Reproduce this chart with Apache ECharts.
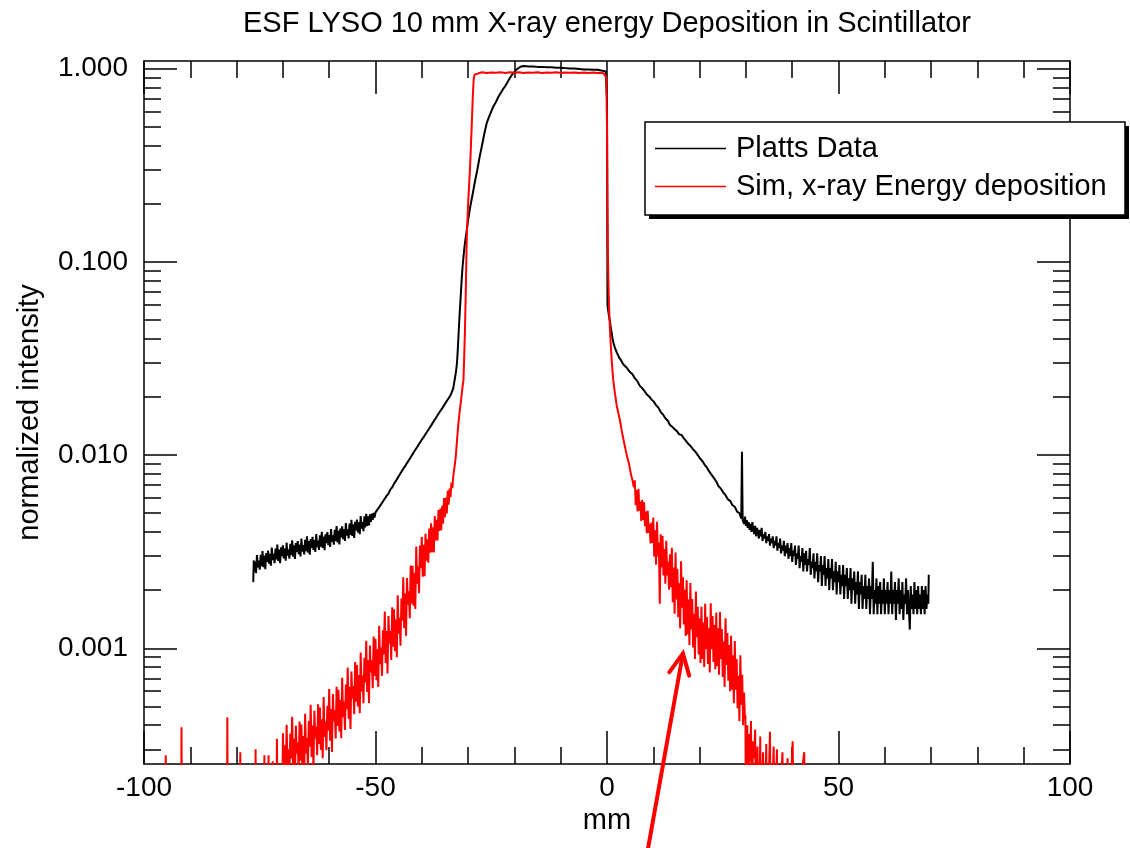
<!DOCTYPE html>
<html><head><meta charset="utf-8">
<script src="https://cdn.jsdelivr.net/npm/echarts@6/dist/echarts.min.js"></script>
<style>html,body{margin:0;padding:0;background:#fff}#c{width:1130px;height:848px}</style>
</head><body><div id="c"></div>
<script>
const chartTitle = 'ESF LYSO 10 mm X-ray energy Deposition in Scintillator';
const xName = 'mm';
const yName = 'normalized intensity';
const seriesNames = ['Platts Data', 'Sim, x-ray Energy deposition'];
const yMajorTicks = [0.001, 0.01, 0.1, 1];
const yMinorTicks = [0.0003,0.0004,0.0005,0.0006,0.0007,0.0008,0.0009,
  0.002,0.003,0.004,0.005,0.006,0.007,0.008,0.009,
  0.02,0.03,0.04,0.05,0.06,0.07,0.08,0.09,
  0.2,0.3,0.4,0.5,0.6,0.7,0.8,0.9];

// ---- Platts Data (black) ----
const plattsLeft = [
[-76.4,2.2e-3],[-76.3,2.85e-3],[-76.2,2.49e-3],[-76.0,2.81e-3],[-75.8,2.45e-3],[-75.6,3.04e-3],[-75.4,2.62e-3],[-75.2,2.84e-3],
[-75.0,2.55e-3],[-74.8,3.05e-3],[-74.6,2.66e-3],[-74.4,3.19e-3],[-74.2,2.63e-3],[-74.0,3.02e-3],[-73.8,2.57e-3],[-73.6,3.11e-3],
[-73.4,2.80e-3],[-73.2,3.20e-3],[-73.0,2.74e-3],[-72.8,3.08e-3],[-72.6,2.68e-3],[-72.4,3.32e-3],[-72.2,2.86e-3],[-72.0,3.08e-3],
[-71.8,2.76e-3],[-71.6,3.28e-3],[-71.4,2.88e-3],[-71.2,3.44e-3],[-71.0,2.83e-3],[-70.8,3.24e-3],[-70.6,2.76e-3],[-70.4,3.33e-3],
[-70.2,3.00e-3],[-70.0,3.41e-3],[-69.8,2.92e-3],[-69.6,3.28e-3],[-69.4,2.84e-3],[-69.2,3.52e-3],[-69.0,3.02e-3],[-68.8,3.25e-3],
[-68.6,2.91e-3],[-68.4,3.47e-3],[-68.2,3.03e-3],[-68.0,3.62e-3],[-67.8,2.98e-3],[-67.6,3.41e-3],[-67.4,2.90e-3],[-67.2,3.50e-3],
[-67.0,3.15e-3],[-66.8,3.59e-3],[-66.6,3.07e-3],[-66.4,3.44e-3],[-66.2,2.99e-3],[-66.0,3.70e-3],[-65.8,3.17e-3],[-65.6,3.42e-3],
[-65.4,3.06e-3],[-65.2,3.64e-3],[-65.0,3.18e-3],[-64.8,3.80e-3],[-64.6,3.13e-3],[-64.4,3.59e-3],[-64.2,3.05e-3],[-64.0,3.68e-3],
[-63.8,3.31e-3],[-63.6,3.77e-3],[-63.4,3.23e-3],[-63.2,3.63e-3],[-63.0,3.15e-3],[-62.8,3.90e-3],[-62.6,3.34e-3],[-62.4,3.61e-3],
[-62.2,3.23e-3],[-62.0,3.84e-3],[-61.8,3.36e-3],[-61.6,4.01e-3],[-61.4,3.31e-3],[-61.2,3.79e-3],[-61.0,3.22e-3],[-60.8,3.89e-3],
[-60.6,3.50e-3],[-60.4,4.00e-3],[-60.2,3.42e-3],[-60.0,3.85e-3],[-59.8,3.35e-3],[-59.6,4.14e-3],[-59.4,3.56e-3],[-59.2,3.84e-3],
[-59.0,3.44e-3],[-58.8,4.10e-3],[-58.6,3.58e-3],[-58.4,4.29e-3],[-58.2,3.53e-3],[-58.0,4.05e-3],[-57.8,3.45e-3],[-57.6,4.17e-3],
[-57.4,3.75e-3],[-57.2,4.28e-3],[-57.0,3.67e-3],[-56.8,4.13e-3],[-56.6,3.59e-3],[-56.4,4.45e-3],[-56.2,3.83e-3],[-56.0,4.13e-3],
[-55.8,3.70e-3],[-55.6,4.42e-3],[-55.4,3.86e-3],[-55.2,4.63e-3],[-55.0,3.82e-3],[-54.8,4.38e-3],[-54.6,3.73e-3],[-54.4,4.52e-3],
[-54.2,4.07e-3],[-54.0,4.64e-3],[-53.8,3.98e-3],[-53.6,4.48e-3],[-53.4,3.90e-3],[-53.2,4.84e-3],[-53.0,4.16e-3],[-52.8,4.50e-3],
[-52.6,4.04e-3],[-52.4,4.82e-3],[-52.2,4.22e-3],[-52.0,4.96e-3],[-51.8,4.30e-3],[-51.6,4.82e-3],[-51.4,4.32e-3],[-51.2,4.94e-3],
[-51.0,4.51e-3],[-50.8,4.98e-3],[-50.6,4.62e-3],[-50.4,5.02e-3],[-50.2,4.75e-3],[-50.0,5.05e-3]
];
const plattsRise = [
[-49.6,5.10e-3],[-49.2,5.38e-3],[-48.8,5.48e-3],[-48.4,5.75e-3],[-48.0,5.88e-3],[-47.6,6.15e-3],[-47.2,6.32e-3],[-46.8,6.62e-3],
[-46.4,6.80e-3],[-46.0,7.10e-3],[-45.6,7.35e-3],[-45.2,7.62e-3],[-44.8,7.90e-3],[-44.4,8.20e-3],[-44.0,8.50e-3],[-43.5,8.85e-3],
[-43.0,9.25e-3],[-42.5,9.65e-3],[-42.0,10.1e-3],[-41.5,10.55e-3],[-41.0,11.0e-3],[-40.5,11.5e-3],[-40.0,12.0e-3],[-39.5,12.5e-3],
[-39.0,13.05e-3],[-38.5,13.6e-3],[-38.0,14.2e-3],[-37.5,14.85e-3],[-37.0,15.5e-3],[-36.5,16.2e-3],[-36.0,16.9e-3],[-35.5,17.6e-3],
[-35.0,18.4e-3],[-34.5,19.2e-3],[-34.0,20.0e-3],[-33.6,20.9e-3],[-33.2,22.2e-3],[-32.9,0.0245],[-32.6,0.0272],
[-32.4,0.0300],[-32.2,0.036],[-32.0,0.045],[-31.8,0.055],[-31.6,0.066],[-31.4,0.080],[-31.2,0.094],[-31.0,0.106],
[-30.8,0.118],[-30.6,0.129],[-30.3,0.145],[-30.0,0.165],[-29.5,0.195],[-29.0,0.225],[-28.5,0.262],[-28.0,0.30],
[-27.5,0.35],[-27.0,0.40],[-26.5,0.46],[-26.0,0.52],[-25.5,0.56],[-25.0,0.60],[-24.5,0.64],[-24.0,0.67],
[-23.5,0.71],[-23.0,0.745],[-22.5,0.78],[-22.0,0.81],[-21.5,0.85],[-21.0,0.89],[-20.5,0.93],[-20.0,0.96],
[-19.5,0.99],[-19.0,1.01],[-18.5,1.025],[-18.0,1.03]
];
const plattsTop = [
[-17.0,1.025],[-16.0,1.025],[-15.0,1.02],[-14.0,1.02],[-13.0,1.015],[-12.0,1.015],[-11.0,1.01],[-10.0,1.01],
[-9.0,1.005],[-8.0,1.0],[-7.0,1.0],[-6.0,0.995],[-5.0,0.99],[-4.0,0.99],[-3.0,0.985],[-2.0,0.985],
[-1.5,0.98],[-1.0,0.975],[-0.6,0.97],[-0.3,0.965],[-0.1,0.95],[0.0,0.70],[0.05,0.25]
];
const plattsRight = [
[0.1,0.060],[0.2,0.057],[0.35,0.054],[0.5,0.051],[0.65,0.049],[0.8,0.046],[1.0,0.043],[1.2,0.040],
[1.4,0.038],[1.7,0.036],[2.1,0.034],[2.6,0.032],[3.0,0.031],[3.5,0.0295],[4.2,0.0284],[5.0,0.0268],
[5.5,0.0262],[6.0,0.025],[6.5,0.0242],[7.1,0.0228],[7.6,0.0222],[8.1,0.0214],[8.6,0.0206],[9.1,0.0201],
[9.6,0.0194],[10.1,0.0189],[10.6,0.0181],[11.1,0.0176],[11.6,0.0167],[12.1,0.0162],[12.6,0.0155],[13.1,0.0151],
[13.6,0.0143],[14.1,0.0140],[14.6,0.0136],[15.1,0.0133],[15.6,0.0128],[16.1,0.0127],[16.6,0.0122],[17.1,0.0118],
[17.6,0.0114],[18.1,0.0111],[18.6,0.0107],[19.1,0.0104],[19.6,0.0100],[20.1,0.0096],[20.6,0.0093],[21.1,0.0089],
[21.6,0.0086],[22.1,0.0082],[22.6,0.0079],[23.1,0.0076],[23.6,0.0073],[24.1,0.0069],[24.6,0.0067],[25.1,0.0064],
[25.6,0.0062],[26.1,0.0059],[26.6,0.0058],[27.1,0.0055],[27.6,0.0054],[28.1,0.0051],[28.6,0.0050],[29.0,0.0047],
[29.15,0.0104],[29.3,0.0046]
];
const plattsTail = [
[29.4,0.0047],[29.6,0.0044],[29.8,0.0048],[30.0,0.0043],[30.2,0.0046],[30.4,0.0042],[30.6,0.0045],[30.8,0.0041],
[31.0,0.0044],[31.2,0.0040],[31.4,0.0045],[31.6,0.0041],[31.8,0.0039],[32.0,0.0043],[32.2,0.0038],[32.4,0.0042],
[32.6,0.0040],[32.8,0.0037],[33.0,0.0041],[33.2,0.0038],[33.4,0.0042],[33.6,0.0036],[33.8,0.0039],[34.0,0.0037],
[34.2,0.0040],[34.4,0.0035],[34.6,0.0038],[34.8,0.0036],[35.0,0.0039],[35.2,0.0034],[35.4,0.0037],[35.6,0.0035],
[35.8,0.0038],[36.0,0.0033],[36.2,0.0036],[36.4,0.0034],[36.6,0.0038],[36.8,0.0032],[37.0,0.0035],[37.2,0.0033],
[37.4,0.0037],[37.6,0.0031],[37.8,0.0034],[38.0,0.0032],[38.2,0.0036],[38.4,0.0030],[38.6,0.0034],[38.8,0.0031],
[39.0,0.0035],[39.2,0.0029],[39.4,0.0033],[39.6,0.0030],[39.8,0.0035],[40.0,0.0028],[40.2,0.0032],[40.4,0.0030],
[40.6,0.0034],[40.8,0.0027],[41.0,0.0031],[41.2,0.0029],[41.4,0.0034],[41.6,0.0026],[41.8,0.0030],[42.0,0.0028],
[42.2,0.0033],[42.4,0.0025],[42.6,0.0031],[42.8,0.0027],[43.0,0.0032],[43.2,0.0025],[43.4,0.0029],[43.6,0.0027],
[43.8,0.0033],[44.0,0.0024],[44.2,0.0028],[44.4,0.0026],[44.6,0.0031],[44.8,0.0023],[45.0,0.0028],[45.2,0.0025],
[45.4,0.0031],[45.6,0.0022],[45.8,0.0027],[46.0,0.0025],[46.2,0.0030],[46.4,0.0021],[46.6,0.0027],[46.8,0.0024],
[47.0,0.0030],[47.2,0.0021],[47.4,0.0026],[47.6,0.0023],[47.8,0.0029],[48.0,0.0020],[48.2,0.0026],[48.4,0.0023],
[48.6,0.0029],[48.8,0.0020],[49.0,0.0025],[49.2,0.0022],[49.4,0.0028],[49.6,0.0019],[49.8,0.0025],[50.0,0.0022],
[50.2,0.0027],[50.4,0.0019],[50.6,0.0024],[50.8,0.0021],[51.0,0.0027],[51.2,0.0018],[51.4,0.0024],[51.6,0.0021],
[51.8,0.0026],[52.0,0.0018],[52.2,0.0023],[52.4,0.0020],[52.6,0.0026],[52.8,0.0017],[53.0,0.0023],[53.2,0.0020],
[53.4,0.0025],[53.6,0.0017],[53.8,0.0022],[54.0,0.0019],[54.2,0.0025],[54.4,0.0016],[54.6,0.0022],[54.8,0.0019],
[55.0,0.0024],[55.2,0.0016],[55.4,0.0021],[55.6,0.0018],[55.8,0.0024],[56.0,0.0016],[56.2,0.0021],[56.4,0.0018],
[56.6,0.0023],[56.8,0.0015],[57.0,0.0021],[57.2,0.0018],[57.4,0.0028],[57.6,0.0015],[57.8,0.0020],[58.0,0.0017],
[58.2,0.0023],[58.4,0.0015],[58.6,0.0021],[58.8,0.0017],[59.0,0.0022],[59.2,0.0015],[59.4,0.0020],[59.6,0.0017],
[59.8,0.0023],[60.0,0.0015],[60.2,0.0020],[60.4,0.0017],[60.6,0.0022],[60.8,0.0015],[61.0,0.0020],[61.2,0.0017],
[61.4,0.0025],[61.6,0.0015],[61.8,0.0020],[62.0,0.0017],[62.2,0.0022],[62.4,0.0014],[62.6,0.0020],[62.8,0.0017],
[63.0,0.0023],[63.2,0.0015],[63.4,0.0020],[63.6,0.0016],[63.8,0.0022],[64.0,0.0014],[64.2,0.0019],[64.4,0.0017],
[64.6,0.0023],[64.8,0.0015],[65.0,0.0020],[65.2,0.0016],[65.4,0.00125],[65.6,0.0021],[65.8,0.0016],[66.0,0.0019],
[66.2,0.0015],[66.4,0.0022],[66.6,0.0016],[66.8,0.0020],[67.0,0.0015],[67.2,0.0021],[67.4,0.0016],[67.6,0.0019],
[67.8,0.0015],[68.0,0.0021],[68.2,0.0016],[68.4,0.0020],[68.6,0.0015],[68.8,0.0021],[69.0,0.0016],[69.2,0.0019],
[69.4,0.0017],[69.5,0.0024]
];

// ---- Sim, x-ray Energy deposition (red); 0.0001 lies below the axis floor ----
const simLeftSparse = [
[-97.0,1e-4],[-95.4,1e-4],[-95.3,2.8e-4],[-95.2,1e-4],[-92.0,1e-4],[-91.9,3.9e-4],[-91.8,1e-4],
[-82.1,1e-4],[-82.0,4.4e-4],[-81.9,1e-4],[-79.3,1e-4],[-79.2,2.9e-4],[-79.1,1e-4],[-76.0,1e-4],
[-75.9,3.0e-4],[-75.8,1e-4],[-74.1,1e-4],[-74.0,2.8e-4],[-73.9,1e-4],[-73.2,1e-4],[-73.1,2.8e-4],
[-73.0,1e-4],[-72.2,2.6e-4],[-71.4,1e-4],[-71.3,3.4e-4],[-71.0,1e-4],[-70.2,1e-4]
];
const simLeft = [
[-70.0,3.64e-4],[-69.8,2.18e-4],[-69.6,3.15e-4],[-69.4,1.97e-4],[-69.2,4.02e-4],[-69.0,2.51e-4],[-68.8,3.0e-4],[-68.6,2.12e-4],
[-68.4,3.62e-4],[-68.2,2.69e-4],[-68.0,4.43e-4],[-67.8,2.37e-4],[-67.6,3.41e-4],[-67.4,2.03e-4],[-67.2,3.98e-4],[-67.0,2.85e-4],
[-66.8,3.25e-4],[-66.6,2.29e-4],[-66.4,4.18e-4],[-66.2,2.62e-4],[-66.0,4.03e-4],[-65.8,2.43e-4],[-65.6,3.52e-4],[-65.4,2.22e-4],
[-65.2,4.58e-4],[-65.0,2.86e-4],[-64.8,3.43e-4],[-64.6,2.43e-4],[-64.4,4.2e-4],[-64.2,3.1e-4],[-64.0,5.1e-4],[-63.8,2.74e-4],
[-63.6,3.98e-4],[-63.4,2.39e-4],[-63.2,4.75e-4],[-63.0,3.42e-4],[-62.8,3.93e-4],[-62.6,2.8e-4],[-62.4,5.13e-4],[-62.2,3.2e-4],
[-62.0,4.94e-4],[-61.8,2.98e-4],[-61.6,4.3e-4],[-61.4,2.7e-4],[-61.2,5.6e-4],[-61.0,3.48e-4],[-60.8,4.18e-4],[-60.6,2.97e-4],
[-60.4,5.05e-4],[-60.2,3.75e-4],[-60.0,6.15e-4],[-59.8,3.33e-4],[-59.6,4.85e-4],[-59.4,2.91e-4],[-59.2,5.8e-4],[-59.0,4.18e-4],
[-58.8,4.8e-4],[-58.6,3.42e-4],[-58.4,6.33e-4],[-58.2,3.97e-4],[-58.0,6.11e-4],[-57.8,3.71e-4],[-57.6,5.4e-4],[-57.4,3.43e-4],
[-57.2,7.04e-4],[-57.0,4.4e-4],[-56.8,5.3e-4],[-56.6,3.78e-4],[-56.4,6.5e-4],[-56.2,4.84e-4],[-56.0,7.95e-4],[-55.8,4.32e-4],
[-55.6,6.33e-4],[-55.4,3.82e-4],[-55.2,7.58e-4],[-55.0,5.51e-4],[-54.8,6.38e-4],[-54.6,4.56e-4],[-54.4,8.5e-4],[-54.2,5.3e-4],
[-54.0,8.19e-4],[-53.8,5.0e-4],[-53.6,7.28e-4],[-53.4,4.62e-4],[-53.2,9.5e-4],[-53.0,5.98e-4],[-52.8,7.25e-4],[-52.6,5.2e-4],
[-52.4,8.93e-4],[-52.2,6.66e-4],[-52.0,1.095e-3],[-51.8,5.94e-4],[-51.6,8.67e-4],[-51.4,5.21e-4],[-51.2,1.035e-3],[-51.0,7.5e-4],
[-50.8,8.68e-4],[-50.6,6.21e-4],[-50.4,1.15e-3],[-50.2,7.2e-4],[-50.0,1.12e-3],[-49.8,6.83e-4],[-49.6,9.9e-4],[-49.4,6.3e-4],
[-49.2,1.31e-3],[-49.0,8.27e-4],[-48.8,1.01e-3],[-48.6,7.2e-4],[-48.4,1.24e-3],[-48.2,9.3e-4],[-48.0,1.55e-3],[-47.8,8.4e-4],
[-47.6,1.23e-3],[-47.4,7.4e-4],[-47.2,1.47e-3],[-47.0,1.06e-3],[-46.8,1.23e-3],[-46.6,8.7e-4],[-46.4,1.63e-3],[-46.2,1.02e-3],
[-46.0,1.59e-3],[-45.8,9.7e-4],[-45.6,1.41e-3],[-45.4,9.0e-4],[-45.2,1.88e-3],[-45.0,1.19e-3],[-44.8,1.44e-3],[-44.6,1.03e-3],
[-44.4,1.81e-3],[-44.2,1.39e-3],[-44.0,2.33e-3],[-43.8,1.27e-3],[-43.6,1.92e-3],[-43.4,1.16e-3],[-43.2,2.31e-3],[-43.0,1.68e-3],
[-42.8,1.97e-3],[-42.6,1.43e-3],[-42.4,2.68e-3],[-42.2,1.70e-3],[-42.0,2.67e-3],[-41.8,1.66e-3],[-41.6,2.46e-3],[-41.4,1.60e-3],
[-41.2,3.36e-3],[-41.0,2.16e-3],[-40.8,2.66e-3],[-40.6,1.93e-3],[-40.4,3.40e-3],[-40.2,2.60e-3],[-40.0,3.77e-3],[-39.8,2.35e-3],
[-39.6,3.43e-3],[-39.4,2.36e-3],[-39.2,3.92e-3],[-39.0,2.84e-3],[-38.8,3.67e-3],[-38.6,2.77e-3],[-38.4,4.17e-3],[-38.2,3.12e-3],
[-38.0,4.44e-3],[-37.8,3.14e-3],[-37.6,4.23e-3],[-37.4,3.13e-3],[-37.2,4.83e-3],[-37.0,3.61e-3],[-36.8,4.62e-3],[-36.6,3.61e-3],
[-36.4,5.19e-3],[-36.2,4.05e-3],[-36.0,5.29e-3],[-35.8,4.08e-3],[-35.6,5.47e-3],[-35.4,4.42e-3],[-35.2,5.99e-3],[-35.0,4.77e-3],
[-34.8,6.03e-3],[-34.6,4.98e-3],[-34.4,6.54e-3],[-34.2,5.54e-3],[-34.0,6.70e-3],[-33.8,6.05e-3],[-33.6,7.20e-3],[-33.4,6.75e-3],
[-33.2,7.75e-3],[-33.0,7.8e-3],[-32.7,9.6e-3],[-32.4,1.19e-2],[-32.1,1.45e-2],[-31.8,1.70e-2],[-31.5,1.95e-2],[-31.2,2.25e-2],
[-31.0,2.44e-2],[-30.7,4.2e-2],[-30.5,7.0e-2],[-30.3,0.13],[-30.0,0.20],[-29.6,0.30],[-29.3,0.45],[-29.0,0.70],
[-28.8,0.88],[-28.6,0.93],[-28.3,0.95]
];
const simPlateau = [
[-27.0,0.957],[-26.0,0.948],[-25.0,0.955],[-24.0,0.951],[-23.0,0.958],[-22.0,0.949],[-21.0,0.956],[-20.0,0.950],
[-19.0,0.957],[-18.0,0.948],[-17.0,0.955],[-16.0,0.951],[-15.0,0.957],[-14.0,0.949],[-13.0,0.955],[-12.0,0.950],
[-11.0,0.956],[-10.0,0.948],[-9.0,0.954],[-8.0,0.950],[-7.0,0.955],[-6.0,0.947],[-5.0,0.953],[-4.0,0.949],
[-3.0,0.954],[-2.0,0.948],[-1.0,0.95],[-0.6,0.94],[-0.35,0.92],[-0.15,0.88],[0.0,0.50],[0.1,0.20]
];
const simDrop = [
[0.2,0.11],[0.3,0.080],[0.45,0.058],[0.65,0.044],[0.85,0.036],[1.05,0.030],[1.35,0.0244],[1.7,0.021],
[2.1,0.018],[2.5,0.0163],[2.8,0.0151],[3.2,0.0133],[3.6,0.0119],[4.0,0.0107],[4.4,0.0097],[4.8,0.0089],
[5.2,0.0079],[5.5,0.0074],[5.8,0.0068]
];
const simRight = [
[6.0,7.4e-3],[6.2,5.5e-3],[6.4,6.6e-3],[6.6,5.1e-3],[6.8,6.7e-3],[7.0,5.15e-3],[7.2,5.75e-3],[7.4,4.56e-3],
[7.6,5.87e-3],[7.8,4.61e-3],[8.0,5.7e-3],[8.2,4.28e-3],[8.4,5.1e-3],[8.6,3.94e-3],[8.8,5.15e-3],[9.0,3.96e-3],
[9.2,4.41e-3],[9.4,3.49e-3],[9.6,4.48e-3],[9.8,3.51e-3],[10.0,4.75e-3],[10.2,2.98e-3],[10.4,4.08e-3],[10.6,2.71e-3],
[10.8,4.52e-3],[11.0,2.99e-3],[11.2,3.53e-3],[11.4,1.70e-3],[11.6,3.89e-3],[11.8,2.62e-3],[12.0,3.81e-3],[12.2,2.38e-3],
[12.4,3.26e-3],[12.6,2.16e-3],[12.8,3.60e-3],[13.0,2.38e-3],[13.2,2.80e-3],[13.4,2.01e-3],[13.6,3.07e-3],[13.8,2.07e-3],
[14.0,3.31e-3],[14.2,1.73e-3],[14.4,2.62e-3],[14.6,1.51e-3],[14.8,3.13e-3],[15.0,1.79e-3],[15.2,2.58e-3],[15.4,1.45e-3],
[15.6,2.17e-3],[15.8,1.27e-3],[16.0,2.82e-3],[16.2,1.62e-3],[16.4,2.33e-3],[16.6,1.33e-3],[16.8,2.01e-3],[17.0,1.16e-3],
[17.2,2.25e-3],[17.4,1.18e-3],[17.6,1.79e-3],[17.8,1.04e-3],[18.0,2.18e-3],[18.2,1.25e-3],[18.4,1.80e-3],[18.6,1.01e-3],
[18.8,1.51e-3],[19.0,8.8e-4],[19.2,1.97e-3],[19.4,1.14e-3],[19.6,1.64e-3],[19.8,9.3e-4],[20.0,1.43e-3],[20.2,8.4e-4],
[20.4,1.64e-3],[20.6,8.8e-4],[20.8,1.36e-3],[21.0,8.0e-4],[21.2,1.70e-3],[21.4,9.9e-4],[21.6,1.45e-3],[21.8,8.3e-4],
[22.0,1.27e-3],[22.2,7.5e-4],[22.4,1.71e-3],[22.6,9.9e-4],[22.8,1.47e-3],[23.0,8.5e-4],[23.2,1.32e-3],[23.4,7.8e-4],
[23.6,1.53e-3],[23.8,8.1e-4],[24.0,1.27e-3],[24.2,7.3e-4],[24.4,1.54e-3],[24.6,8.8e-4],[24.8,1.26e-3],[25.0,7.1e-4],
[25.2,1.08e-3],[25.4,6.3e-4],[25.6,1.43e-3],[25.8,8.2e-4],[26.0,1.20e-3],[26.2,6.8e-4],[26.4,1.04e-3],[26.6,6.0e-4],
[26.8,1.16e-3],[27.0,6.1e-4],[27.2,9.2e-4],[27.4,5.2e-4],[27.6,1.09e-3],[27.8,6.1e-4],[28.0,8.8e-4],[28.2,4.9e-4],
[28.4,7.2e-4],[28.6,4.2e-4],[28.8,9.2e-4],[29.0,5.1e-4],[29.2,7.3e-4],[29.4,4.0e-4],[29.6,5.9e-4],[29.8,4.3e-4],
[29.9,4.5e-4]
];
const simRightSparse = [
[30.0,1e-4],[30.3,4.0e-4],[30.5,1e-4],[30.7,3.6e-4],[30.9,2.6e-4],[31.1,4.2e-4],[31.3,1e-4],[31.5,3.3e-4],
[31.8,2.7e-4],[32.0,3.8e-4],[32.2,1e-4],[32.5,3.1e-4],[32.8,1e-4],[33.1,3.5e-4],[33.3,1e-4],[33.7,2.9e-4],
[34.0,1e-4],[34.4,3.2e-4],[34.6,1e-4],[35.2,3.7e-4],[35.4,1e-4],[36.0,3.1e-4],[36.2,1e-4],[36.7,3.0e-4],
[36.9,1e-4],[37.9,2.9e-4],[38.1,1e-4],[39.0,2.7e-4],[39.2,1e-4],[40.1,3.3e-4],[40.3,1e-4],[42.6,2.9e-4],
[42.8,1e-4],[45.0,1e-4]
];

// annotation arrow (data coordinates: tail below the axis floor, tip near the sim tail)
const arrowTail = [8.4, 0.00008];
const arrowTip = [16.4, 0.00094];

const platts = plattsLeft.concat(plattsRise, plattsTop, plattsRight, plattsTail);
const sim = simLeftSparse.concat(simLeft, simPlateau, simDrop, simRight, simRightSparse);

const FONT = 'Liberation Sans, Arial, Helvetica, sans-serif';
const YMIN = 0.000252, YMAX = 1.094;
const lineBlack = {color: '#000', width: 1.5};
function yAxisDef(pos, ticks, len, showLine, showLabel) {
  return {
    type: 'log', logBase: 10, min: YMIN, max: YMAX, position: pos,
    axisLine: {show: showLine, onZero: false, lineStyle: lineBlack},
    splitLine: {show: false},
    axisTick: {show: true, inside: true, length: len, customValues: ticks, lineStyle: lineBlack},
    axisLabel: showLabel ? {show: true, customValues: ticks, margin: 16, fontSize: 28, fontFamily: FONT, color: '#000',
      formatter: v => Number(v).toFixed(3)} : {show: false},
    minorTick: {show: false}
  };
}
function xAxisDef(pos, showLabel) {
  return {
    type: 'value', min: -100, max: 100, interval: 50, position: pos,
    axisLine: {show: true, onZero: false, lineStyle: lineBlack},
    splitLine: {show: false}, minorSplitLine: {show: false},
    axisTick: {show: true, inside: true, length: 33, lineStyle: lineBlack},
    minorTick: {show: true, splitNumber: 5, length: 17, lineStyle: lineBlack},
    axisLabel: showLabel ? {show: true, margin: 10, fontSize: 28, fontFamily: FONT, color: '#000'} : {show: false},
    name: showLabel ? xName : '', nameLocation: 'middle', nameGap: 34,
    nameTextStyle: {fontSize: 29, fontFamily: FONT, color: '#000'}
  };
}

const chart = echarts.init(document.getElementById('c'), null, {renderer: 'canvas'});
const yLeft = yAxisDef('left', yMajorTicks, 33, true, true);
yLeft.name = yName; yLeft.nameLocation = 'middle'; yLeft.nameGap = 100;
yLeft.nameTextStyle = {fontSize: 29, fontFamily: FONT, color: '#000'};

chart.setOption({
  animation: false,
  backgroundColor: '#fff',
  title: {text: chartTitle, left: 602, top: 4, textAlign: 'center',
    textStyle: {fontSize: 29, fontWeight: 'normal', fontFamily: FONT, color: '#000'}},
  grid: {left: 144, right: 60, top: 61, bottom: 84, containLabel: false, outerBoundsMode: 'none'},
  legend: {
    orient: 'vertical', left: 645, top: 122, z: 60,
    data: seriesNames, icon: 'rect',
    padding: [12, 15, 12, 10], itemGap: 9, itemWidth: 71, itemHeight: 1.5,
    textStyle: {fontSize: 29, lineHeight: 29, fontFamily: FONT, color: '#000', padding: [0, 0, 0, 5]}
  },
  xAxis: [xAxisDef('bottom', true), xAxisDef('top', false)],
  yAxis: [yLeft,
    yAxisDef('left', yMinorTicks, 17, false, false),
    yAxisDef('right', yMajorTicks, 33, true, false),
    yAxisDef('right', yMinorTicks, 17, false, false)],
  series: [
    {name: seriesNames[0], type: 'line', data: platts, symbol: 'none', showSymbol: false, clip: true,
      color: '#000', lineStyle: {color: '#000', width: 2}, z: 3},
    {name: seriesNames[1], type: 'line', data: sim, symbol: 'none', showSymbol: false, clip: true,
      color: '#ff0000', lineStyle: {color: '#ff0000', width: 2}, z: 4}
  ]
});

// legend frame with solid drop shadow, and the arrow annotation placed through the axes
const tail = chart.convertToPixel({xAxisIndex: 0, yAxisIndex: 0}, arrowTail);
const tip = chart.convertToPixel({xAxisIndex: 0, yAxisIndex: 0}, arrowTip);
const dx = tail[0] - tip[0], dy = tail[1] - tip[1];
const L = Math.sqrt(dx * dx + dy * dy);
const ux = dx / L, uy = dy / L;
const ang = 26 * Math.PI / 180, wl = 23;
function rot(x, y, a) { return [x * Math.cos(a) - y * Math.sin(a), x * Math.sin(a) + y * Math.cos(a)]; }
const w1 = rot(ux, uy, ang), w2 = rot(ux, uy, -ang);
chart.setOption({
  graphic: [
    {id: 'legendShadow', type: 'rect', z: 50, shape: {x: 649, y: 126, width: 480, height: 93}, style: {fill: '#000'}},
    {id: 'legendBox', type: 'rect', z: 51, shape: {x: 645, y: 122, width: 480, height: 93},
      style: {fill: '#fff', stroke: '#000', lineWidth: 1.5}},
    {id: 'arrowShaft', type: 'line', z: 100, shape: {x1: tail[0], y1: tail[1], x2: tip[0], y2: tip[1]},
      style: {stroke: '#ff0000', lineWidth: 4, lineCap: 'round'}},
    {id: 'arrowHead', type: 'polyline', z: 100,
      shape: {points: [[tip[0] + w1[0] * wl, tip[1] + w1[1] * wl], tip, [tip[0] + w2[0] * wl, tip[1] + w2[1] * wl]]},
      style: {stroke: '#ff0000', lineWidth: 4, lineCap: 'round', lineJoin: 'miter', fill: null}}
  ]
});
</script>
</body></html>
